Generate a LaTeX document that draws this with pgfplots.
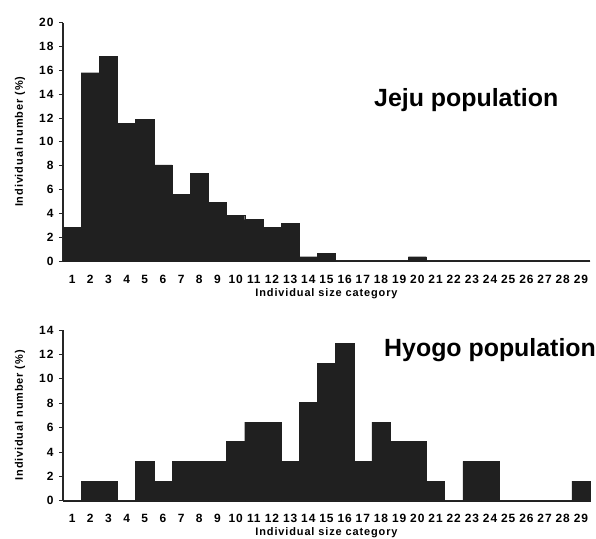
\documentclass[border=0pt]{standalone}
\usepackage{pgfplots}
\pgfplotsset{compat=1.18}
\usepackage{fontspec}
\setmainfont{Liberation Sans}[LetterSpace=8]
\newfontfamily\titlefont{Liberation Sans}
\definecolor{barfill}{RGB}{32,32,32}
\pgfplotsset{
  hist/.style={
    anchor=south west, scale only axis, width=527bp,
    xmin=0.5, xmax=29.5, ymin=0,
    axis x line=bottom, axis y line=left,
    axis line style={-, line width=1.1pt, black!85},
    xtick={1,...,29},
    x tick style={draw=none},
    y tick style={black!85, line width=0.8pt},
    ytick distance=2,
    tick align=outside, major tick length=4bp,
    /pgf/number format/assume math mode=true,
    tick label style={font=\fontsize{12}{13}\selectfont\bfseries},
    xticklabel style={anchor=center, yshift=-14bp},
    yticklabel style={anchor=east, xshift=-2bp},
    label style={font=\fontsize{11}{12}\selectfont\bfseries},
    xlabel={Individual size category},
    ylabel={Individual number (\%)},
    xlabel style={at={(axis description cs:0.5,0)}, anchor=center, yshift=-33bp},
    ylabel style={at={(axis description cs:-0.0816,0.5)}, anchor=center},
    clip=false,
  }
}
\begin{document}
\begin{tikzpicture}
\useasboundingbox (0,0) rectangle (596bp,539bp);
\begin{axis}[hist, at={(63bp,278bp)}, height=238.3bp, ymax=20]
\addplot[ybar, bar width=1, bar shift=0pt, fill=barfill, draw=barfill, line width=0.4pt] coordinates {
(1,2.8) (2,15.8) (3,17.2) (4,11.55) (5,11.9) (6,8.06) (7,5.6) (8,7.33) (9,4.9) (10,3.86)
(11,3.47) (12,2.8) (13,3.16) (14,0.36) (15,0.64) (16,0) (17,0) (18,0) (19,0) (20,0.36)
(21,0) (22,0) (23,0) (24,0) (25,0) (26,0) (27,0) (28,0) (29,0)};
\end{axis}
\begin{axis}[hist, at={(63bp,38.3bp)}, height=170.7bp, ymax=14, xlabel style={yshift=1bp}]
\addplot[ybar, bar width=1, bar shift=0pt, fill=barfill, draw=barfill, line width=0.4pt] coordinates {
(1,0) (2,1.61) (3,1.61) (4,0) (5,3.23) (6,1.61) (7,3.23) (8,3.23) (9,3.23) (10,4.84)
(11,6.45) (12,6.45) (13,3.23) (14,8.06) (15,11.29) (16,12.90) (17,3.23) (18,6.45) (19,4.84) (20,4.84)
(21,1.61) (22,0) (23,3.23) (24,3.23) (25,0) (26,0) (27,0) (28,0) (29,1.61)};
\end{axis}
\node[font=\titlefont\fontsize{25}{30}\selectfont\bfseries, anchor=base west, inner sep=0pt] at (374bp,432bp) {Jeju population};
\node[font=\titlefont\fontsize{25}{30}\selectfont\bfseries, anchor=base west, inner sep=0pt] at (384bp,182bp) {Hyogo population};
\end{tikzpicture}
\end{document}
